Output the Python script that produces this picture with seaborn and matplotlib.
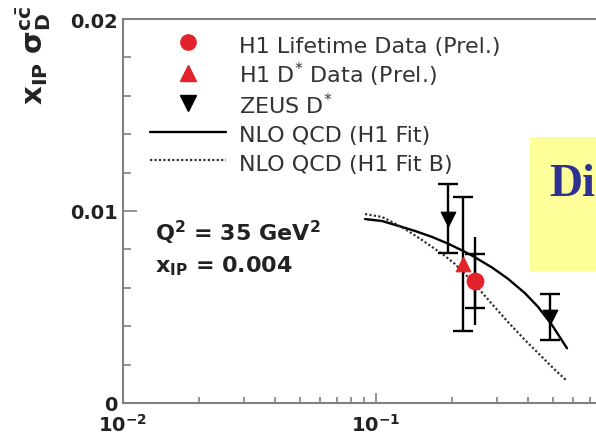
import numpy as np
import pandas as pd
import matplotlib
matplotlib.use("Agg")
import matplotlib.pyplot as plt
from matplotlib.lines import Line2D
from matplotlib.patches import Rectangle
import seaborn as sns

# ---- data ----
fit_x = [0.0905, 0.1056, 0.1222, 0.1426, 0.1665, 0.1926, 0.2187, 0.2395,
         0.2873, 0.3323, 0.3880, 0.4368, 0.4963, 0.5688]
fit_y = [0.00958, 0.00948, 0.00923, 0.00896, 0.00865, 0.00830, 0.00795, 0.00768,
         0.00706, 0.00647, 0.00572, 0.00501, 0.00406, 0.00285]
fitb_x = [0.0905, 0.1056, 0.1222, 0.1338, 0.1520, 0.1711, 0.1874, 0.2052,
          0.2352, 0.2530, 0.2873, 0.3323, 0.3880, 0.4530, 0.5100, 0.5688]
fitb_y = [0.00984, 0.00969, 0.00927, 0.00896, 0.00849, 0.00802, 0.00766, 0.00724,
          0.00646, 0.00599, 0.00516, 0.00422, 0.00328, 0.00240, 0.00172, 0.00115]

zeus_x = [0.193, 0.488]
zeus_y = [0.0096, 0.00448]
zeus_err = [0.0018, 0.0012]

dstar_x = [0.221]
dstar_y = [0.00724]
dstar_err = [0.0035]

life_x = [0.246]
life_y = [0.00635]
life_stat = [0.0014]
life_tot = [0.0023]

labels = ["H1 Lifetime Data (Prel.)", "H1 D$^{*}$ Data (Prel.)", "ZEUS D$^{*}$",
          "NLO QCD (H1 Fit)", "NLO QCD (H1 Fit B)"]

RED = "#e3222b"

sns.set_style("ticks")
plt.rcParams["font.family"] = ["DejaVu Sans"]
plt.rcParams["mathtext.fontset"] = "dejavusans"

fig = plt.figure(figsize=(5.96, 4.39), dpi=100)
W, H = 596, 439
ax = fig.add_axes([123 / W, 1 - 404 / H, 506 / W, 384 / H])

df_fit = pd.DataFrame({"x": fit_x, "y": fit_y})
df_fitb = pd.DataFrame({"x": fitb_x, "y": fitb_y})
sns.lineplot(data=df_fit, x="x", y="y", ax=ax, color="black", lw=1.7, zorder=3)
sns.lineplot(data=df_fitb, x="x", y="y", ax=ax, color="#333333", lw=1.6,
             linestyle=(0, (1, 1)), zorder=3)

# error bars
ax.errorbar(zeus_x, zeus_y, yerr=zeus_err, fmt="none", ecolor="black",
            elinewidth=1.7, capsize=7, capthick=1.7, zorder=4)
ax.errorbar(dstar_x, dstar_y, yerr=dstar_err, fmt="none", ecolor="black",
            elinewidth=1.7, capsize=7, capthick=1.7, zorder=4)
ax.errorbar(life_x, life_y, yerr=life_tot, fmt="none", ecolor="black",
            elinewidth=1.7, capsize=0, zorder=4)
ax.errorbar(life_x, life_y, yerr=life_stat, fmt="none", ecolor="black",
            elinewidth=1.7, capsize=7, capthick=1.7, zorder=4)

sns.scatterplot(x=zeus_x, y=zeus_y, ax=ax, marker="v", s=110, color="black",
                edgecolor="black", zorder=5)
sns.scatterplot(x=dstar_x, y=dstar_y, ax=ax, marker="^", s=110, color=RED,
                edgecolor=RED, zorder=5)
sns.scatterplot(x=life_x, y=life_y, ax=ax, marker="o", s=140, color=RED,
                edgecolor=RED, zorder=5)

ax.set_xscale("log")
ax.set_xlim(0.01, 1.0)
ax.set_ylim(0, 0.02)
ax.set_xlabel("")
ax.set_ylabel("")

ax.set_xticks([0.01, 0.1, 1.0])
ax.set_xticklabels([r"$\mathbf{10^{-2}}$", r"$\mathbf{10^{-1}}$", ""])
ax.set_yticks([0, 0.01, 0.02])
ax.set_yticklabels(["0", "0.01", "0.02"], fontweight="bold")
ax.set_yticks(np.arange(0.002, 0.02, 0.002), minor=True)

spine_c = "#808080"
for s in ax.spines.values():
    s.set_color(spine_c)
    s.set_linewidth(1.5)
    s.set_visible(True)

ax.tick_params(axis="both", which="both", direction="in", color=spine_c,
               width=1.2, top=False, right=False)
ax.tick_params(axis="y", which="major", length=10, labelsize=14, pad=4,
               labelcolor="#222222")
ax.tick_params(axis="y", which="minor", length=6)
ax.tick_params(axis="x", which="major", length=7, labelsize=14, pad=7,
               labelcolor="#222222")
ax.tick_params(axis="x", which="minor", length=4)

# legend
handles = [
    Line2D([], [], ls="none", marker="o", ms=11, color=RED),
    Line2D([], [], ls="none", marker="^", ms=11, color=RED),
    Line2D([], [], ls="none", marker="v", ms=11, color="black"),
    Line2D([], [], color="black", lw=1.7),
    Line2D([], [], color="#333333", lw=1.6, ls=(0, (1, 1))),
]
leg = ax.legend(handles, labels, loc="upper left",
                bbox_to_anchor=(150 / W, 1 - 33 / H), bbox_transform=fig.transFigure,
                frameon=False, fontsize=16, handlelength=3.4, handletextpad=0.6,
                handleheight=1.33, labelspacing=0.16, borderpad=0, borderaxespad=0)
for t in leg.get_texts():
    t.set_color("#333333")

# annotations
ax.text(155 / W, 1 - 241 / H, r"Q$^\mathbf{2}$ = 35 GeV$^\mathbf{2}$",
        transform=fig.transFigure, fontsize=16, fontweight="bold", color="#222222")
ax.text(155 / W, 1 - 272 / H, r"x$_\mathbf{IP}$ = 0.004",
        transform=fig.transFigure, fontsize=16, fontweight="bold", color="#222222")

# y label
fig.text(34 / W, 1 - 5 / H, r"$\mathbf{x_{IP}\ \sigma_{D}^{c\bar{c}}}$",
         rotation=90, ha="center", va="top", fontsize=21, color="#222222")

# yellow box with partial title
fig.patches.append(Rectangle((530 / W, 1 - 272 / H), 70 / W, 134 / H,
                             transform=fig.transFigure, facecolor="#ffff99",
                             edgecolor="none", zorder=6))
fig.text(549 / W, 1 - 196 / H, "Di", fontfamily="Liberation Serif",
         fontweight="bold", fontsize=33, color="#2e3192", zorder=7)

fig.savefig("out.png", dpi=100)
